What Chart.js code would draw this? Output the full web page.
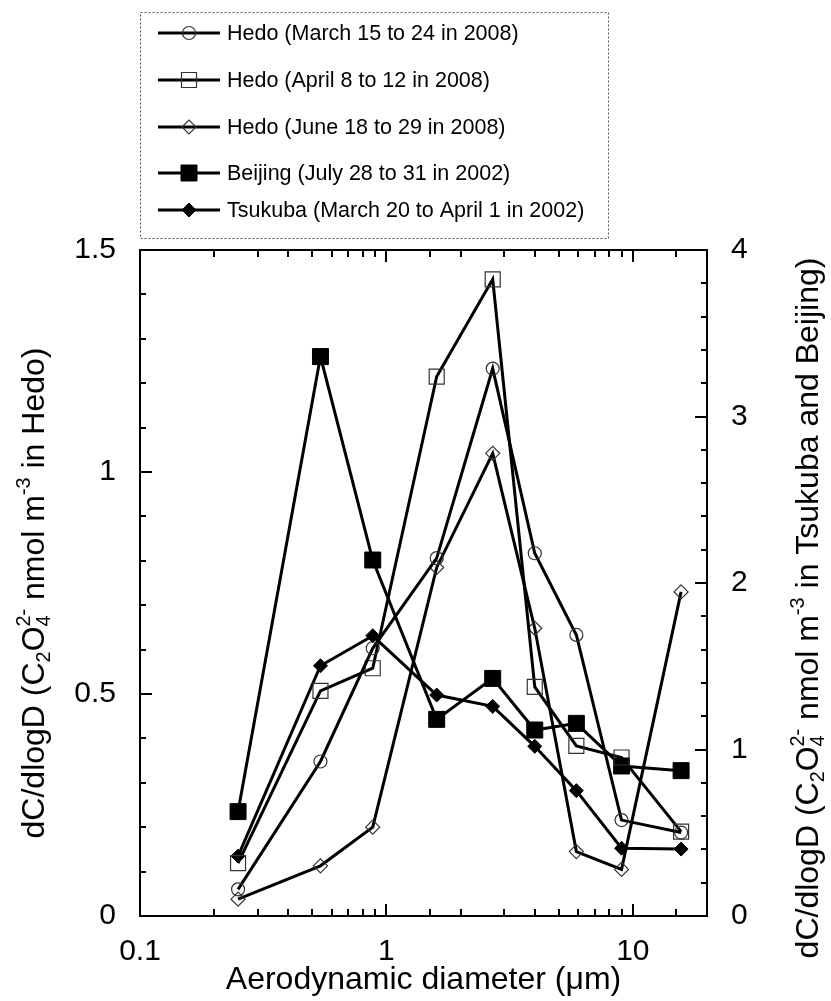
<!DOCTYPE html>
<html><head><meta charset="utf-8">
<script src="https://cdn.jsdelivr.net/npm/chart.js@4.4.0/dist/chart.umd.min.js"></script>
<style>html,body{margin:0;padding:0;background:#fff;}</style>
</head><body>
<canvas id="c" width="831" height="1001"></canvas>
<script>
// ---- data ----
const diameters = [0.25, 0.54, 0.88, 1.6, 2.7, 4.0, 5.9, 9.0, 15.7];
const hedoMarch = [0.060, 0.348, 0.603, 0.806, 1.233, 0.817, 0.633, 0.216, 0.188];
const hedoApril = [0.119, 0.507, 0.558, 1.215, 1.434, 0.516, 0.383, 0.357, 0.190];
const hedoJune  = [0.038, 0.113, 0.200, 0.785, 1.042, 0.648, 0.145, 0.105, 0.730];
const beijing   = [0.627, 3.36, 2.138, 1.181, 1.427, 1.117, 1.157, 0.901, 0.873];
const tsukuba   = [0.360, 1.503, 1.683, 1.327, 1.259, 1.019, 0.753, 0.407, 0.402];
const seriesLabels = [
  'Hedo (March 15 to 24 in 2008)',
  'Hedo (April 8 to 12 in 2008)',
  'Hedo (June 18 to 29 in 2008)',
  'Beijing (July 28 to 31 in 2002)',
  'Tsukuba (March 20 to April 1 in 2002)'
];
const xTickLabels = ['0.1', '1', '10'];
const leftTickLabels = ['0', '0.5', '1', '1.5'];
const rightTickLabels = ['0', '1', '2', '3', '4'];
const xTitle = 'Aerodynamic diameter (\u03bcm)';

const FONT = '"Liberation Sans", Arial, sans-serif';
const pts = arr => arr.map((v, i) => ({x: diameters[i], y: v}));

function ds(label, data, axis, style, radius, filled) {
  return {
    label, data: pts(data), yAxisID: axis,
    borderColor: '#000', borderWidth: 3, tension: 0,
    pointStyle: style, pointRadius: radius, pointHoverRadius: radius,
    pointBackgroundColor: filled ? '#000' : 'rgba(0,0,0,0)',
    pointBorderColor: filled ? '#000' : '#333',
    pointBorderWidth: filled ? 1 : 1.2
  };
}

const datasets = [
  ds(seriesLabels[0], hedoMarch, 'y', 'circle', 6.5, false),
  ds(seriesLabels[1], hedoApril, 'y', 'rect', 10.6, false),
  ds(seriesLabels[2], hedoJune, 'y', 'rectRot', 7, false),
  ds(seriesLabels[3], beijing, 'y2', 'rect', 11.3, true),
  ds(seriesLabels[4], tsukuba, 'y2', 'rectRot', 7, true)
];

function drawRich(ctx, segs, cx, cy, size) {
  const small = size * 0.62;
  const wOf = (t, s) => { ctx.font = s + 'px ' + FONT; return ctx.measureText(t).width; };
  let total = 0;
  segs.forEach(s => {
    if (s.n !== undefined) s.w = wOf(s.n, size);
    else if (s.sub !== undefined && s.sup !== undefined) s.w = Math.max(wOf(s.sub, small), wOf(s.sup, small));
    else if (s.sub !== undefined) s.w = wOf(s.sub, small);
    else s.w = wOf(s.sup, small);
    total += s.w;
  });
  let x = cx - total / 2;
  const base = cy + size * 0.36;
  ctx.textAlign = 'left'; ctx.textBaseline = 'alphabetic'; ctx.fillStyle = '#000';
  segs.forEach(s => {
    if (s.n !== undefined) { ctx.font = size + 'px ' + FONT; ctx.fillText(s.n, x, base); }
    else {
      ctx.font = small + 'px ' + FONT;
      if (s.sub !== undefined) ctx.fillText(s.sub, x, base + size * 0.2);
      if (s.sup !== undefined) ctx.fillText(s.sup, x, base - size * 0.42);
    }
    x += s.w;
  });
}

const leftTitle = [{n: 'dC/dlogD (C'}, {sub: '2'}, {n: 'O'}, {sub: '4', sup: '2-'}, {n: ' nmol m'}, {sup: '-3'}, {n: ' in Hedo)'}];
const rightTitle = [{n: 'dC/dlogD (C'}, {sub: '2'}, {n: 'O'}, {sub: '4', sup: '2-'}, {n: ' nmol m'}, {sup: '-3'}, {n: ' in Tsukuba and Beijing)'}];

const legendRows = [33, 80, 127, 173, 210];

const decorPlugin = {
  id: 'decor',
  afterDraw(chart) {
    const ctx = chart.ctx, a = chart.chartArea;
    const sx = chart.scales.x, sy = chart.scales.y, sy2 = chart.scales.y2;
    ctx.save();
    // frame
    ctx.strokeStyle = '#000'; ctx.lineWidth = 2;
    ctx.strokeRect(a.left, a.top, a.right - a.left, a.bottom - a.top);
    ctx.beginPath();
    // x ticks (bottom and top, inward)
    sx.ticks.forEach(t => {
      const lg = Math.log10(t.value);
      const major = Math.abs(lg - Math.round(lg)) < 1e-9;
      const len = major ? 12 : 7;
      const px = Math.round(sx.getPixelForValue(t.value));
      if (px <= a.left + 1 || px >= a.right - 1) return;
      ctx.moveTo(px, a.bottom); ctx.lineTo(px, a.bottom - len);
      ctx.moveTo(px, a.top); ctx.lineTo(px, a.top + len);
    });
    // left y ticks
    for (let k = 1; k < 15; k++) {
      const py = Math.round(sy.getPixelForValue(k * 0.1));
      const len = (k % 5 === 0) ? 12 : 6;
      ctx.moveTo(a.left, py); ctx.lineTo(a.left + len, py);
    }
    // right y ticks
    for (let k = 1; k < 20; k++) {
      const py = Math.round(sy2.getPixelForValue(k * 0.2));
      const len = (k % 5 === 0) ? 12 : 6;
      ctx.moveTo(a.right, py); ctx.lineTo(a.right - len, py);
    }
    ctx.stroke();

    // legend
    const lx = 140, ly = 12, lw = 468, lh = 226;
    ctx.lineWidth = 1; ctx.strokeStyle = '#555'; ctx.setLineDash([2, 2]);
    ctx.strokeRect(lx + 0.5, ly + 0.5, lw, lh);
    ctx.setLineDash([]);
    chart.data.datasets.forEach((d, i) => {
      const y = legendRows[i];
      ctx.strokeStyle = '#000'; ctx.lineWidth = 3;
      ctx.beginPath(); ctx.moveTo(158, y); ctx.lineTo(220, y); ctx.stroke();
      ctx.fillStyle = d.pointBackgroundColor; ctx.strokeStyle = d.pointBorderColor; ctx.lineWidth = d.pointBorderWidth;
      Chart.helpers.drawPoint(ctx, {pointStyle: d.pointStyle, radius: d.pointRadius, rotation: 0, borderWidth: d.pointBorderWidth}, 189, y);
      ctx.fillStyle = '#000'; ctx.font = '21.5px ' + FONT; ctx.textAlign = 'left'; ctx.textBaseline = 'middle';
      ctx.fillText(d.label, 227, y + 1);
    });

    // axis titles
    const midY = (a.top + a.bottom) / 2;
    ctx.save(); ctx.translate(32, midY + 10); ctx.rotate(-Math.PI / 2);
    drawRich(ctx, leftTitle, 0, 0, 32); ctx.restore();
    ctx.save(); ctx.translate(806, midY + 25); ctx.rotate(-Math.PI / 2);
    drawRich(ctx, rightTitle, 0, 0, 32); ctx.restore();
    ctx.fillStyle = '#000'; ctx.font = '32px ' + FONT; ctx.textAlign = 'center'; ctx.textBaseline = 'middle';
    ctx.fillText(xTitle, (a.left + a.right) / 2, 980);
    ctx.restore();
  }
};

const tickFont = {family: FONT, size: 30};
new Chart(document.getElementById('c'), {
  type: 'line',
  data: {datasets},
  plugins: [decorPlugin],
  options: {
    responsive: false, animation: false, devicePixelRatio: 1,
    layout: {padding: {top: 250, left: 0, right: 0, bottom: 0}},
    plugins: {legend: {display: false}, tooltip: {enabled: false}},
    scales: {
      x: {
        type: 'logarithmic', min: 0.1, max: 20,
        afterFit: s => { s.height = 85; },
        grid: {display: false}, border: {display: true, color: '#000', width: 2},
        ticks: {
          autoSkip: false, maxRotation: 0, color: '#000', font: tickFont, padding: 10,
          callback: v => { const lg = Math.log10(v); return Math.abs(lg - Math.round(lg)) < 1e-9 ? xTickLabels[Math.round(lg) + 1] : ''; }
        }
      },
      y: {
        position: 'left', min: 0, max: 1.5,
        afterFit: s => { s.width = 140; },
        grid: {display: false}, border: {display: true, color: '#000', width: 2},
        ticks: {stepSize: 0.5, color: '#000', font: tickFont, padding: 16,
          callback: v => leftTickLabels[Math.round(v / 0.5)]}
      },
      y2: {
        position: 'right', min: 0, max: 4,
        afterFit: s => { s.width = 124; },
        grid: {display: false}, border: {display: true, color: '#000', width: 2},
        ticks: {stepSize: 1, color: '#000', font: tickFont, padding: 16,
          callback: v => rightTickLabels[Math.round(v)]}
      }
    }
  }
});
</script>
</body></html>
